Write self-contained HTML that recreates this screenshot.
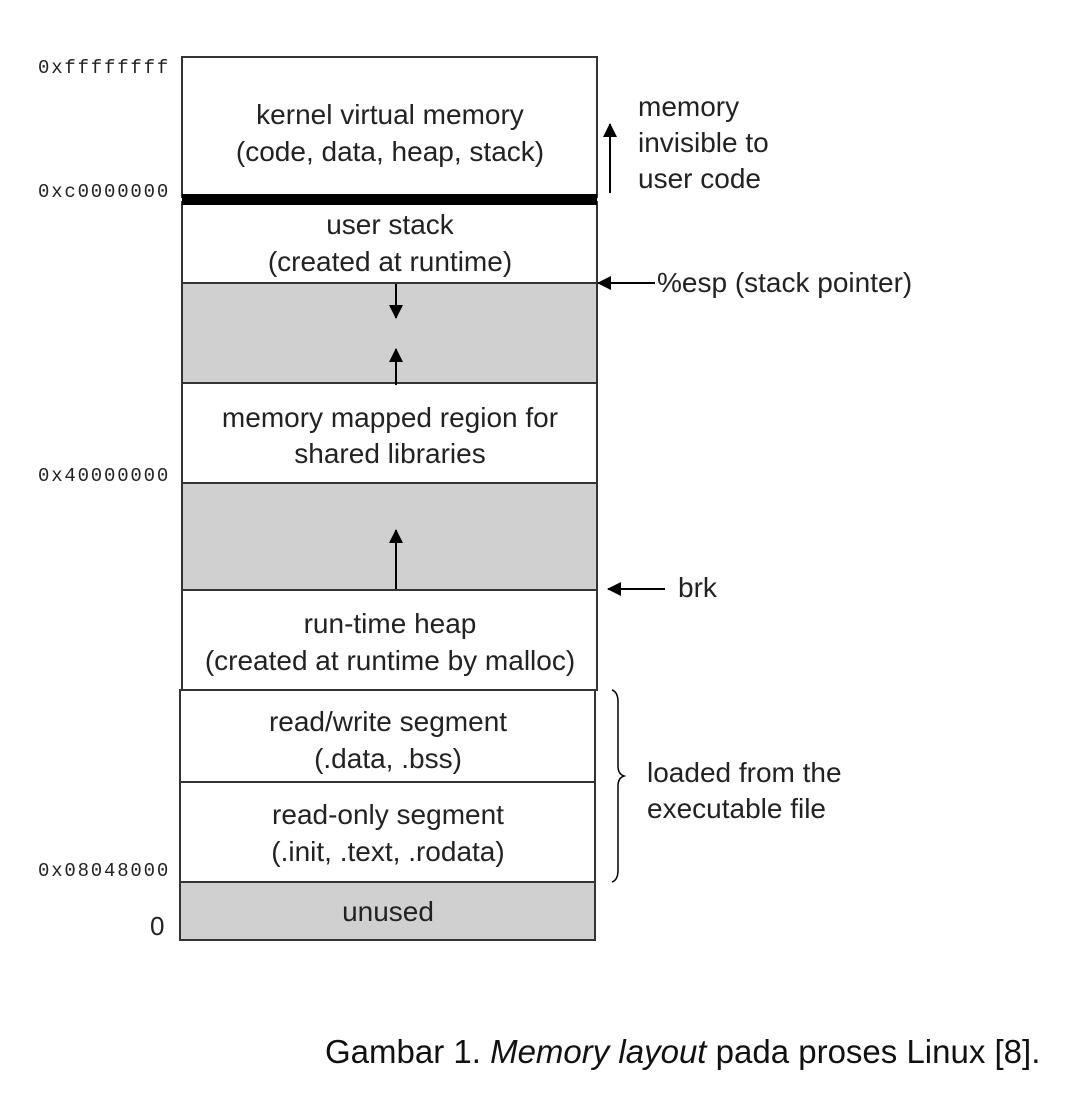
<!DOCTYPE html>
<html><head><style>
html,body{margin:0;padding:0;background:#fff;}
svg{display:block;}
.t{font-family:"Liberation Sans",sans-serif;font-size:28px;fill:#222;}
.m{font-family:"Liberation Mono",monospace;font-size:19px;fill:#222;letter-spacing:1.8px;}
</style></head><body>
<svg width="1080" height="1102" viewBox="0 0 1080 1102">
<defs>
<marker id="ah2" markerWidth="14" markerHeight="14" refX="13" refY="7" orient="auto" markerUnits="userSpaceOnUse"><path d="M0,0 L14,7 L0,14 z" fill="#000"/></marker>
</defs>
<g stroke="#333" stroke-width="2">
<rect x="182" y="57" width="415" height="140" fill="#fff"/>
<rect x="182" y="202" width="415" height="81" fill="#fff"/>
<rect x="182" y="283" width="415" height="100" fill="#d0d0d0"/>
<rect x="182" y="383" width="415" height="100" fill="#fff"/>
<rect x="182" y="483" width="415" height="107" fill="#d0d0d0"/>
<rect x="182" y="590" width="415" height="100" fill="#fff"/>
<rect x="180" y="690" width="415" height="92" fill="#fff"/>
<rect x="180" y="782" width="415" height="100" fill="#fff"/>
<rect x="180" y="882" width="415" height="58" fill="#d0d0d0"/>
</g>
<rect x="182" y="194" width="415" height="11" fill="#000"/>
<g class="t" text-anchor="middle">
<text x="390" y="124">kernel virtual memory</text>
<text x="390" y="161">(code, data, heap, stack)</text>
<text x="390" y="234">user stack</text>
<text x="390" y="271">(created at runtime)</text>
<text x="390" y="427">memory mapped region for</text>
<text x="390" y="463">shared libraries</text>
<text x="390" y="633">run-time heap</text>
<text x="390" y="670">(created at runtime by malloc)</text>
<text x="388" y="731">read/write segment</text>
<text x="388" y="768">(.data, .bss)</text>
<text x="388" y="824">read-only segment</text>
<text x="388" y="861">(.init, .text, .rodata)</text>
<text x="388" y="921">unused</text>
</g>
<g class="t">
<text x="638" y="116">memory</text>
<text x="638" y="152">invisible to</text>
<text x="638" y="188">user code</text>
<text x="657" y="292">%esp (stack pointer)</text>
<text x="678" y="597">brk</text>
<text x="647" y="782">loaded from the</text>
<text x="647" y="818">executable file</text>
<text x="150" y="935" font-size="26">0</text>
</g>
<g class="m">
<text x="38" y="73">0xffffffff</text>
<text x="38" y="197">0xc0000000</text>
<text x="38" y="481">0x40000000</text>
<text x="38" y="876">0x08048000</text>
</g>
<g stroke="#000" stroke-width="2" fill="none">
<line x1="610" y1="193" x2="610" y2="124" marker-end="url(#ah2)"/>
<line x1="655" y1="283" x2="598" y2="283" marker-end="url(#ah2)"/>
<line x1="665" y1="589" x2="608" y2="589" marker-end="url(#ah2)"/>
<line x1="396" y1="284" x2="396" y2="318" marker-end="url(#ah2)"/>
<line x1="396" y1="385" x2="396" y2="349" marker-end="url(#ah2)"/>
<line x1="396" y1="589" x2="396" y2="530" marker-end="url(#ah2)"/>
<path d="M612,690 q6,2 6,12 v64 q0,8 6,10 q-6,2 -6,10 v84 q0,10 -6,12" stroke-width="1.5"/>
</g>
<text x="325" y="1063" font-family="Liberation Sans,sans-serif" font-size="33" fill="#111">Gambar 1. <tspan font-style="italic">Memory layout</tspan> pada proses Linux [8].</text>
</svg>
</body></html>
